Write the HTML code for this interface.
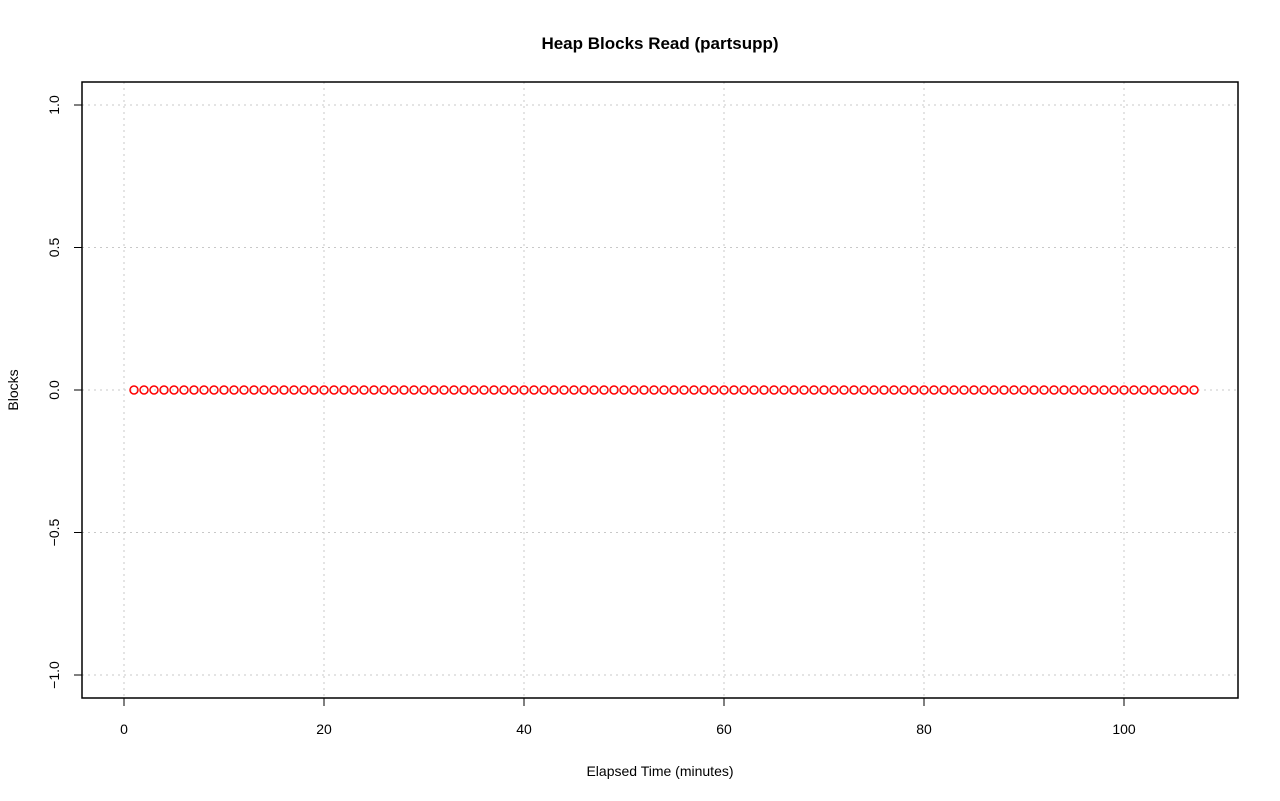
<!DOCTYPE html>
<html><head><meta charset="utf-8"><style>
body{margin:0;background:#fff;}
svg{display:block;font-family:"Liberation Sans",Arial,sans-serif;}
</style></head><body>
<svg id="chart" width="1280" height="801">
<text x="660" y="49" text-anchor="middle" font-size="17" font-weight="bold">Heap Blocks Read (partsupp)</text>
<text x="660" y="776" text-anchor="middle" font-size="14">Elapsed Time (minutes)</text>
<text transform="translate(18,390) rotate(-90)" text-anchor="middle" font-size="14">Blocks</text>
<g id="grid"></g>
<g id="axes"></g>
<g id="points"></g>
<rect x="82" y="82" width="1156" height="616" fill="none" stroke="#000" stroke-width="1.5"/>
</svg>
<script>
const xTicks = [0, 20, 40, 60, 80, 100];
const yTicks = [-1.0, -0.5, 0.0, 0.5, 1.0];
const yTickLabels = ["\u22121.0", "\u22120.5", "0.0", "0.5", "1.0"];
const blocks = [0,0,0,0,0,0,0,0,0,0,0,0,0,0,0,0,0,0,0,0,0,0,0,0,0,0,0,0,0,0,0,0,0,0,0,0,0,0,0,0,0,0,0,0,0,0,0,0,0,0,0,0,0,0,0,0,0,0,0,0,0,0,0,0,0,0,0,0,0,0,0,0,0,0,0,0,0,0,0,0,0,0,0,0,0,0,0,0,0,0,0,0,0,0,0,0,0,0,0,0,0,0,0,0,0,0,0];
const minutes = blocks.map((_, i) => i + 1);

const NS = "http://www.w3.org/2000/svg";
const xs = v => 124 + v * 10;
const ys = v => 390 - v * 285;
function mk(tag, attrs, parent) {
  const e = document.createElementNS(NS, tag);
  for (const k in attrs) e.setAttribute(k, attrs[k]);
  parent.appendChild(e);
  return e;
}
const grid = document.getElementById('grid');
const axes = document.getElementById('axes');
const pts = document.getElementById('points');

xTicks.forEach(t => {
  const g = mk('line', {x1: xs(t), x2: xs(t), y1: 82, y2: 698, stroke: '#c8c8c8', 'stroke-dasharray': '2,4'}, grid);
  
  
  const tk = mk('line', {x1: xs(t), x2: xs(t), y1: 698, y2: 706, stroke: '#000'}, axes);
  
  
  const lb = mk('text', {x: xs(t), y: 734, 'text-anchor': 'middle', 'font-size': 14}, axes);
  lb.textContent = t;
  
  
});
mk('line', {x1: xs(0), x2: xs(100), y1: 698, y2: 698, stroke: '#000'}, axes);
yTicks.forEach((t, i) => {
  const g = mk('line', {x1: 82, x2: 1238, y1: ys(t), y2: ys(t), stroke: '#c8c8c8', 'stroke-dasharray': '2,4'}, grid);
  
  
  const tk = mk('line', {x1: 74, x2: 82, y1: ys(t), y2: ys(t), stroke: '#000'}, axes);
  
  
  const lb = mk('text', {transform: `translate(59,${ys(t)}) rotate(-90)`, 'text-anchor': 'middle', 'font-size': 14}, axes);
  lb.textContent = yTickLabels[i];
  
  
});
blocks.forEach((v, i) => {
  const c = mk('circle', {cx: xs(minutes[i]), cy: ys(v), r: 4, fill: 'none', stroke: '#ff0000', 'stroke-width': 1.5}, pts);
  
  
});
</script>
</body></html>
